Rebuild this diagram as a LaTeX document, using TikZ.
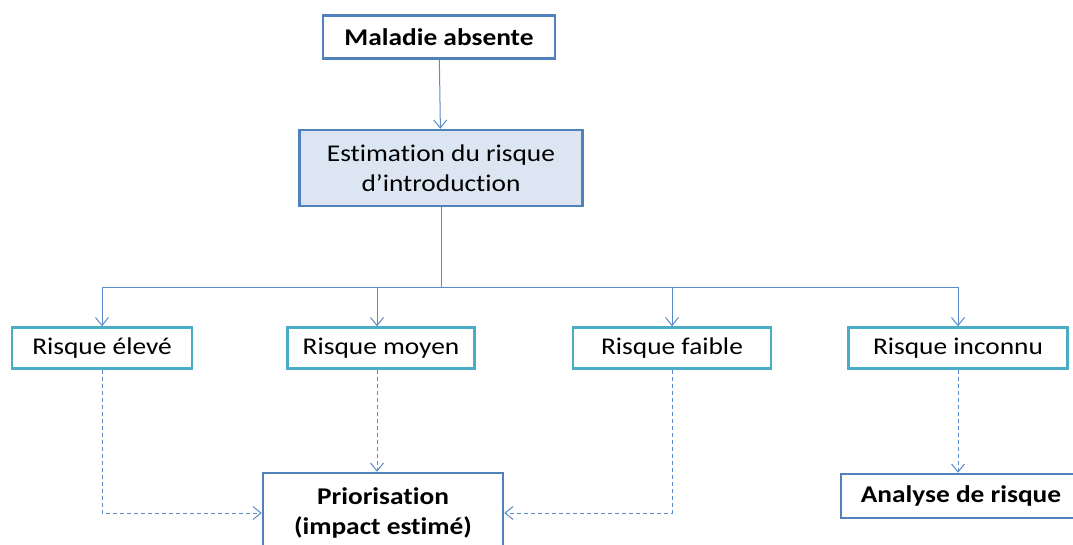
\documentclass[tikz,border=0pt]{standalone}
\usepackage{fontspec}
\setmainfont{Carlito}[FakeStretch=1.14, Ligatures=NoCommon]
\usepackage{tikz}
\usetikzlibrary{arrows.meta}

\definecolor{boxblue}{HTML}{4F81BD}
\definecolor{boxteal}{HTML}{4BACC6}
\definecolor{linkblue}{HTML}{5B8BC9}
\definecolor{fillblue}{HTML}{DCE6F2}

\begin{document}
\begin{tikzpicture}[x=1pt, y=-1pt,
    every node/.style={font=\fontsize{24}{30}\selectfont, inner sep=0pt, align=center},
    mainbox/.style={draw=boxblue, line width=2.5pt, fill=white},
    riskbox/.style={draw=boxteal, line width=2.5pt, fill=white, minimum height=41pt},
    conn/.style={draw=linkblue, line width=1pt, -{Straight Barb[length=8pt, width=13pt]}},
    dconn/.style={conn, dash pattern=on 4pt off 3pt}]
                \clip (0,0) rectangle (1073,545);
                \fill[white] (0,0) rectangle (1073,545);
                \node[mainbox, minimum width=232pt, minimum height=43pt] (maladie) at (439,37) {\bfseries Maladie absente};
                \node[mainbox, fill=fillblue, minimum width=283pt, minimum height=76pt] (estim) at (441,168) {Estimation du risque\\d’introduction};
                \node[riskbox, minimum width=180pt] (eleve) at (102,348) {Risque élevé};
                \node[riskbox, minimum width=187pt] (moyen) at (381,348) {Risque moyen};
                \node[riskbox, minimum width=198pt] (faible) at (672,348) {Risque faible};
                \node[riskbox, minimum width=219pt] (inconnu) at (958,348) {Risque inconnu};
                \node[mainbox, minimum width=240pt, minimum height=80pt] (prior) at (383,513) {\bfseries Priorisation\\\bfseries (impact estimé)};
                \node[mainbox, minimum width=240pt, minimum height=44pt] (analyse) at (961,496) {\bfseries Analyse de risque};
                % arbre des risques
                \draw[conn] (maladie) -- (estim);
                \draw[draw=linkblue, line width=1pt] (estim.south) -- ++(0,80) coordinate (bus);
                \draw[conn] (bus) -| (eleve.north);
                \draw[conn] (bus) -| ([xshift=-4pt]moyen.north);
                \draw[conn] (bus) -| (faible.north);
                \draw[conn] (bus) -| (inconnu.north);
                % suites
                \draw[dconn] (eleve.south) |- (prior.west);
                \draw[dconn] ([xshift=-4pt]moyen.south) -- ([xshift=-4pt]moyen.south |- prior.north);
                \draw[dconn] (faible.south) |- (prior.east);
                \draw[dconn] (inconnu.south) -- (inconnu.south |- analyse.north);
            \end{tikzpicture}
\end{document}
